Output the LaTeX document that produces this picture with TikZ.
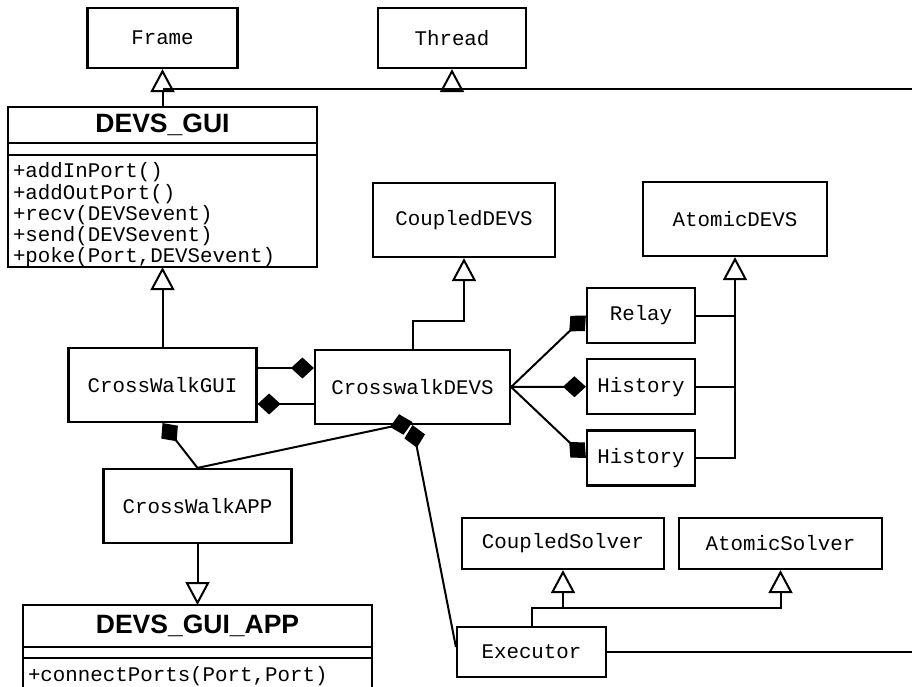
\documentclass[tikz,border=0pt]{standalone}
\usepackage{fontspec}
\newfontfamily\classfont{Liberation Mono}
\newfontfamily\titlefont{Liberation Sans}
\usetikzlibrary{arrows.meta,positioning}

\begin{document}
\begin{tikzpicture}
[x=1pt, y=-1pt,
% STYLES
% The cls style is used for a class box that only shows its name
cls/.style={rectangle, draw, fill=white, line width=2.2pt, inner sep=0pt, font=\classfont\fontsize{20.8}{21.2}\selectfont},
% The clstitle and clsops styles are the compartments of a full class box
clstitle/.style={rectangle, draw, fill=white, line width=2.2pt, outer sep=0pt, inner sep=0pt, font=\titlefont\bfseries\fontsize{26.5}{28}\selectfont},
clsops/.style={rectangle, draw, fill=white, line width=2.2pt, outer sep=0pt, inner xsep=5pt, inner ysep=0pt, align=left, font=\classfont\fontsize{20.8}{21.2}\selectfont},
% inheritance gets an open triangle, composition a filled diamond
inherit/.style={line width=2pt, -{Triangle[open, length=23pt, width=24pt]}},
compose/.style={line width=2pt, -{Diamond[length=23pt, width=21pt]}},
link/.style={line width=2pt}]

\useasboundingbox (0,0) rectangle (912,687);

% Draw classes
\node [cls, minimum width=150pt, minimum height=60pt] (frame) at (162.5,38) {Frame};
\node [cls, minimum width=148pt, minimum height=60pt] (thread) at (452,38) {Thread};

\node [clstitle, minimum width=309pt, minimum height=36pt] (guititle) at (162.5,125) {DEVS\_GUI};
\node [clstitle, minimum width=309pt, minimum height=12pt, below=0pt of guititle] (guiattr) {};
\node [clsops, minimum width=309pt, text width=299pt, minimum height=112pt, below=0pt of guiattr] (guiops)
  {\rule{0pt}{23pt}+addInPort()\\+addOutPort()\\+recv(DEVSevent)\\+send(DEVSevent)\\+poke(Port,DEVSevent)};

\node [cls, minimum width=182pt, minimum height=74pt] (coupleddevs) at (464,220) {CoupledDEVS};
\node [cls, minimum width=184pt, minimum height=74pt] (atomicdevs) at (735,219) {AtomicDEVS};
\node [cls, minimum width=108pt, minimum height=55pt] (relay) at (641,315.5) {Relay};
\node [cls, minimum width=108pt, minimum height=55pt, below=14pt of relay] (historyA) {History};
\node [cls, minimum width=108pt, minimum height=55pt, below=14pt of historyA] (historyB) {History};

\node [cls, minimum width=188pt, minimum height=74pt] (gui) at (162.5,385) {CrossWalkGUI};
\node [cls, minimum width=195pt, minimum height=74pt] (devs) at (412.5,387) {CrosswalkDEVS};
\node [cls, minimum width=188pt, minimum height=74pt] (app) at (197.5,506) {CrossWalkAPP};

\node [clstitle, minimum width=349pt, minimum height=42pt] (apptitle) at (197.5,626) {DEVS\_GUI\_APP};
\node [clstitle, minimum width=349pt, minimum height=11pt, below=0pt of apptitle] (appattr) {};
\node [clsops, minimum width=349pt, text width=339pt, minimum height=36pt, below=0pt of appattr] (appops)
  {+connectPorts(Port,Port)};

\node [cls, minimum width=202pt, minimum height=51pt] (coupledsolver) at (563,543.5) {CoupledSolver};
\node [cls, minimum width=203pt, minimum height=51pt] (atomicsolver) at (780.5,543.5) {AtomicSolver};
\node [cls, minimum width=149pt, minimum height=50pt] (executor) at (531.5,652) {Executor};

% free ends on the right border
\coordinate (eastA) at (912,89);
\coordinate (eastB) at (912,652);

% Draw the inheritance links
\draw [inherit] (guititle.north) -- (frame.south);
\draw [link] (guititle.north |- eastA) -- (eastA);
\draw [inherit] (thread.south |- eastA) -- (thread.south);
\draw [inherit] (gui.north) -- (guiops.south);
\draw [inherit] (app.south) -- (apptitle.north);
\draw [inherit] (devs.north) |- ++(0,-28) -| (coupleddevs.south);
\draw [inherit] (historyB.east) -| (atomicdevs.south);
\draw [link] (relay.east) -- (relay.east -| atomicdevs.south);
\draw [link] (historyA.east) -- (historyA.east -| atomicdevs.south);
\draw [inherit] (executor.north) |- ([yshift=-38pt]coupledsolver.south) -- (coupledsolver.south);
\draw [inherit] ([yshift=-38pt]coupledsolver.south) -| (atomicsolver.south);

% Draw the composition links
\draw [compose] ([yshift=17pt]gui.east) -- ([yshift=17pt]gui.east -| devs.west);
\draw [compose] ([yshift=-17pt]devs.west) -- ([yshift=-17pt]devs.west -| gui.east);
\draw [compose] (app.north) -- (gui.south);
\draw [compose] (app.north) -- ([yshift=3pt]devs.south);
\draw [compose] ([yshift=5pt]executor.west) -- (devs.south);
\draw [compose] (devs.east) -- (relay.west);
\draw [compose] (devs.east) -- (historyA.west);
\draw [compose] (devs.east) -- (historyB.west);
\draw [link] (executor.east) -- (eastB);

\end{tikzpicture}
\end{document}
